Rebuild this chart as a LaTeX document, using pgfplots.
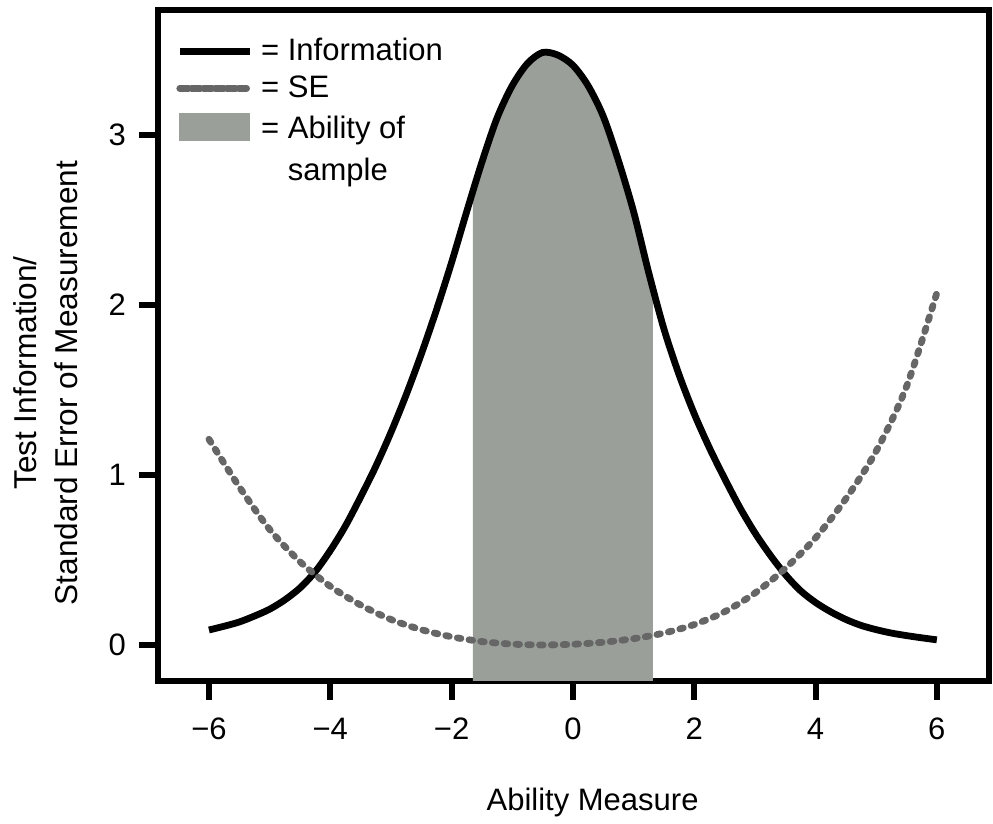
\documentclass[border=0pt]{standalone}
\usepackage{pgfplots}
\pgfplotsset{compat=1.18}
\usepgfplotslibrary{fillbetween}
\usepackage{fontspec}
\setmainfont{Liberation Sans}
\definecolor{segray}{RGB}{102,102,102}
\definecolor{abgray}{RGB}{154,159,154}
\pgfplotsset{
  linelegend/.style={legend image code/.code={\draw[##1,line cap=round] (2.6pt,0pt) -- (33.4pt,0pt); \path (0pt,0pt) -- (35pt,0pt);}},
  arealegend/.style={legend image code/.code={\fill[abgray] (0pt,-6.75pt) rectangle (35pt,6.75pt);}},
}

\pgfplotstableread{
x y
-6 0.088
-5.75 0.11
-5.5 0.135
-5.25 0.17
-5 0.21
-4.75 0.265
-4.5 0.335
-4.25 0.43
-4 0.555
-3.75 0.70
-3.5 0.87
-3.25 1.05
-3 1.25
-2.75 1.47
-2.5 1.71
-2.25 1.97
-2 2.25
-1.75 2.55
-1.5 2.84
-1.25 3.10
-1 3.29
-0.75 3.42
-0.5 3.485
-0.25 3.47
0 3.41
0.25 3.29
0.5 3.11
0.75 2.85
1 2.55
1.25 2.19
1.5 1.86
1.75 1.59
2 1.36
2.25 1.16
2.5 0.98
2.75 0.81
3 0.66
3.25 0.53
3.5 0.415
3.75 0.32
4 0.25
4.25 0.195
4.5 0.15
4.75 0.115
5 0.09
5.25 0.07
5.5 0.055
5.75 0.042
6 0.03
}\infotable

\pgfplotstableread{
x y
-6 1.21
-5.5 0.93
-5 0.68
-4.5 0.49
-4 0.345
-3.5 0.235
-3 0.15
-2.5 0.09
-2 0.048
-1.5 0.02
-1 0.005
-0.5 0.0
0 0.004
0.5 0.016
1 0.037
1.5 0.07
2 0.12
2.5 0.195
3 0.305
3.5 0.45
4 0.63
4.5 0.86
5 1.14
5.5 1.52
6 2.07
}\setable

\begin{document}
\begin{tikzpicture}
\path (0,0) rectangle (496.5pt,409pt);
\begin{axis}[
  at={(79pt,68.5pt)}, anchor=south west,
  scale only axis, width=415.5pt, height=335.5pt,
  xmin=-6.84, xmax=6.86, ymin=-0.212, ymax=3.735,
  axis line style={line width=3pt, line join=miter},
  xtick={-6,-4,-2,0,2,4,6},
  xticklabels={−6,−4,−2,0,2,4,6},
  ytick={0,1,2,3},
  tick align=outside, tick pos=left,
  major tick length=9.5pt,
  tick style={line width=3pt, black},
  /pgf/number format/assume math mode=true,
  tick label style={font=\fontsize{15.5}{18}\selectfont},
  xticklabel style={yshift=-5.5pt},
  yticklabel style={xshift=-3pt},
  label style={font=\fontsize{15.5}{18}\selectfont},
  xlabel={Ability Measure},
  xlabel style={at={(rel axis cs:0.523,-0.1923)}, anchor=base},
  ylabel={\begin{tabular}{@{}c@{}}\hspace*{10pt}Test Information/\\Standard Error of Measurement\end{tabular}},
  ylabel style={at={(rel axis cs:-0.132,0.4441)}, anchor=center, font=\fontsize{15.8}{20.5}\selectfont},
  legend style={draw=none, fill=none, at={(rel axis cs:0.0144,0.970)}, anchor=north west,
    font=\fontsize{15.5}{18.5}\selectfont, cells={anchor=west}, row sep=2pt,
    /tikz/every odd column/.append style={column sep=2pt}},
  legend cell align=left,
  clip=true,
]
\addplot[name path=info, line width=3.4pt, black, smooth, linelegend] table {\infotable};
\addlegendentry{= Information}
\addplot[line width=3.4pt, segray, smooth, line cap=round, dash pattern=on 1.8pt off 4.1pt, linelegend] table {\setable};
\addlegendentry{= SE}
\addplot[draw=none, name path=base, forget plot] coordinates {(-7,-0.5) (7,-0.5)};
\addplot[abgray, draw=none, forget plot] fill between[of=info and base, soft clip={domain=-1.65:1.32}];
\addlegendimage{arealegend}
\addlegendentry{= \begin{tabular}[t]{@{}l@{}}Ability of\\[2.5pt]sample\end{tabular}}
\end{axis}
\end{tikzpicture}
\end{document}
